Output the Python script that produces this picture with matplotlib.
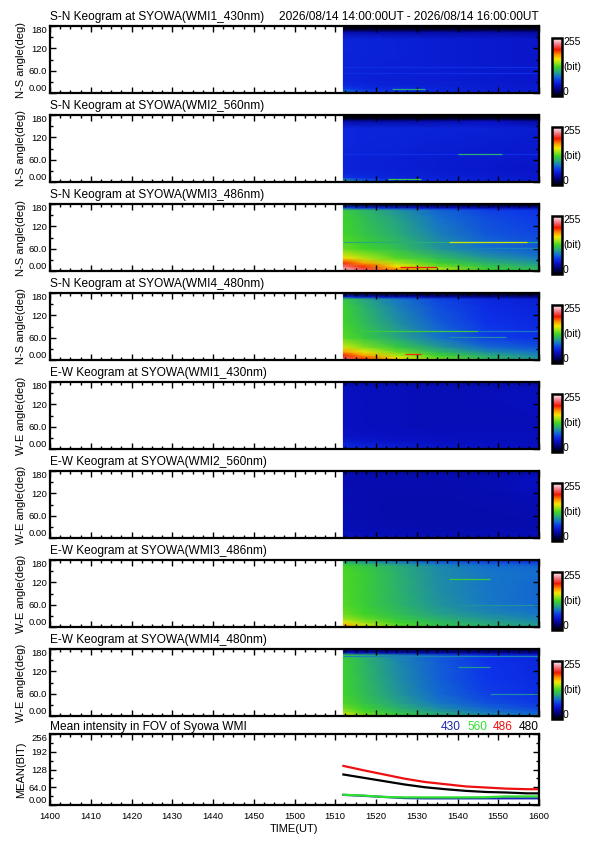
import numpy as np
import matplotlib
matplotlib.use('Agg')
import matplotlib.pyplot as plt
from matplotlib.colors import LinearSegmentedColormap
from matplotlib.ticker import MultipleLocator, FixedLocator

plt.rcParams['font.family'] = ['Liberation Sans', 'DejaVu Sans']

# ---------------- data ----------------
panel_titles = [
    "S-N Keogram at SYOWA(WMI1_430nm)", "S-N Keogram at SYOWA(WMI2_560nm)",
    "S-N Keogram at SYOWA(WMI3_486nm)", "S-N Keogram at SYOWA(WMI4_480nm)",
    "E-W Keogram at SYOWA(WMI1_430nm)", "E-W Keogram at SYOWA(WMI2_560nm)",
    "E-W Keogram at SYOWA(WMI3_486nm)", "E-W Keogram at SYOWA(WMI4_480nm)",
]
panel_ylabels = ["N-S angle(deg)"] * 4 + ["W-E angle(deg)"] * 4
time_range_text = "2026/08/14 14:00:00UT - 2026/08/14 16:00:00UT"

# keogram node grid (minutes after 14:00 UT, angle in deg)
key_times = [72, 77, 85, 95, 107, 120]
key_angles = [0, 5, 12, 22, 35, 60, 100, 145, 164, 170, 180]

# intensity (bit) at nodes; rows follow key_angles, columns follow key_times
sn_430 = [[62, 58, 55, 53, 52, 50],
          [85, 72, 66, 60, 56, 53],
          [68, 62, 60, 57, 54, 52],
          [60, 58, 56, 55, 53, 51],
          [58, 56, 55, 54, 52, 50],
          [58, 56, 55, 54, 52, 50],
          [58, 57, 56, 54, 52, 50],
          [58, 57, 56, 54, 52, 50],
          [40, 40, 38, 38, 38, 36],
          [12, 12, 12, 12, 12, 12],
          [0, 0, 0, 0, 0, 0]]
sn_560 = [[75, 62, 56, 54, 52, 50],
          [100, 78, 64, 58, 55, 52],
          [66, 62, 58, 56, 54, 51],
          [60, 58, 56, 54, 52, 50],
          [58, 56, 55, 53, 51, 49],
          [58, 56, 55, 53, 52, 50],
          [60, 58, 57, 55, 53, 52],
          [60, 58, 58, 57, 56, 53],
          [38, 38, 38, 40, 46, 36],
          [8, 8, 8, 8, 10, 8],
          [0, 0, 0, 0, 0, 0]]
sn_486 = [[245, 225, 190, 155, 128, 116],
          [240, 220, 185, 152, 126, 115],
          [225, 200, 165, 138, 120, 108],
          [200, 178, 148, 126, 110, 100],
          [165, 150, 132, 116, 100, 90],
          [135, 128, 117, 100, 86, 78],
          [128, 120, 108, 92, 78, 72],
          [126, 116, 103, 86, 74, 68],
          [122, 112, 98, 82, 70, 65],
          [70, 62, 55, 48, 42, 40],
          [0, 0, 0, 0, 0, 0]]
sn_480 = [[225, 200, 165, 138, 115, 100],
          [222, 196, 162, 135, 113, 98],
          [205, 180, 150, 127, 108, 94],
          [180, 160, 136, 114, 96, 86],
          [155, 140, 122, 102, 84, 76],
          [132, 122, 106, 88, 70, 64],
          [127, 115, 98, 80, 66, 60],
          [125, 110, 92, 75, 62, 57],
          [120, 105, 88, 72, 60, 55],
          [60, 52, 45, 38, 32, 30],
          [0, 0, 0, 0, 0, 0]]
ew_430 = [[52, 50, 48, 46, 45, 45],
          [60, 57, 53, 49, 47, 46],
          [58, 55, 52, 48, 46, 45],
          [52, 50, 48, 46, 45, 44],
          [48, 47, 46, 45, 44, 44],
          [46, 45, 44, 43, 43, 43],
          [46, 45, 44, 43, 43, 44],
          [46, 45, 44, 43, 44, 45],
          [45, 44, 44, 43, 43, 44],
          [43, 42, 42, 42, 42, 42],
          [38, 38, 38, 38, 38, 38]]
ew_560 = [[44, 43, 43, 42, 42, 42],
          [46, 45, 44, 43, 42, 42],
          [45, 44, 43, 42, 42, 42],
          [43, 42, 42, 41, 41, 41],
          [42, 42, 41, 40, 40, 40],
          [42, 41, 40, 40, 40, 41],
          [42, 41, 40, 40, 41, 42],
          [42, 41, 41, 41, 42, 46],
          [42, 41, 41, 41, 42, 44],
          [40, 40, 40, 40, 40, 42],
          [38, 38, 38, 38, 38, 38]]
ew_486 = [[185, 158, 135, 120, 110, 102],
          [180, 155, 133, 119, 109, 101],
          [160, 145, 128, 115, 105, 98],
          [145, 135, 122, 110, 100, 93],
          [136, 128, 117, 104, 95, 88],
          [131, 124, 112, 99, 89, 83],
          [130, 124, 111, 97, 88, 83],
          [130, 124, 110, 96, 88, 85],
          [128, 120, 108, 95, 86, 82],
          [120, 112, 100, 88, 80, 75],
          [100, 90, 80, 70, 65, 60]]
ew_480 = [[160, 140, 124, 110, 96, 86],
          [155, 137, 122, 108, 94, 84],
          [145, 130, 116, 102, 88, 78],
          [136, 125, 110, 95, 82, 72],
          [130, 120, 105, 89, 76, 68],
          [127, 116, 100, 84, 70, 63],
          [126, 114, 97, 81, 67, 61],
          [125, 112, 95, 80, 66, 60],
          [122, 110, 92, 78, 64, 58],
          [50, 45, 40, 35, 32, 30],
          [15, 15, 15, 15, 15, 15]]
keograms = [sn_430, sn_560, sn_486, sn_480, ew_430, ew_560, ew_486, ew_480]

# thin arc streaks: (panel, angle, t_start, t_end, intensity)
streaks = [
    (0, 70, 72, 120, 64), (0, 54, 72, 120, 63), (0, 10, 84, 92, 105),
    (1, 74, 72, 120, 64), (1, 74, 100, 111, 108), (1, 9, 83, 91, 120),
    (2, 77, 72, 120, 108), (2, 77, 98, 117, 155), (2, 61, 100, 120, 92), (2, 12, 86, 95, 205),
    (3, 79, 74, 105, 122), (3, 79, 105, 120, 88), (3, 63, 98, 112, 96), (3, 16, 87, 91, 200),
    (6, 128, 98, 108, 122), (6, 58, 100, 120, 98),
    (7, 161, 72, 120, 92), (7, 132, 100, 108, 100), (7, 59, 108, 120, 96),
]

# mean intensity in FOV
mean_t = [72, 77, 82, 87, 92, 97, 102, 107, 112, 117, 120]
mean_430 = [36.5, 33, 29, 25, 24, 24, 24, 24, 24, 24, 24]
mean_560 = [37, 34, 29, 27.5, 27.5, 27.5, 27.5, 28, 31, 31, 31]
mean_486 = [141, 125, 110, 95, 83, 75, 67, 63, 59, 57, 57]
mean_480 = [110, 98, 86, 74, 64, 57, 51, 47, 45, 42, 42]
mean_labels = ["430", "560", "486", "480"]

x_ticks = list(range(0, 121, 10))
x_ticklabels = ["1400", "1410", "1420", "1430", "1440", "1450", "1500",
                "1510", "1520", "1530", "1540", "1550", "1600"]
ang_ticks = [0, 60, 120, 180]
ang_ticklabels = ["0.00", "60.0", "120", "180"]
mean_ticks = [0, 64, 128, 192, 256]
mean_ticklabels = ["0.00", "64.0", "128", "192", "256"]

# ---------------- style ----------------
cmap = LinearSegmentedColormap.from_list("idl", [
    (0.00, (0, 0, 0)),
    (0.08, (0, 0, 0.38)),
    (0.18, (0.03, 0.06, 0.76)),
    (0.26, (0.05, 0.20, 0.92)),
    (0.34, (0.08, 0.45, 0.80)),
    (0.42, (0.16, 0.67, 0.47)),
    (0.50, (0.24, 0.83, 0.16)),
    (0.58, (0.67, 0.90, 0.08)),
    (0.64, (0.98, 0.90, 0.0)),
    (0.72, (1.0, 0.55, 0.0)),
    (0.80, (0.94, 0.08, 0.0)),
    (0.90, (0.95, 0.50, 0.55)),
    (1.00, (1, 1, 1)),
])

W, H = 595, 842
fig = plt.figure(figsize=(W / 100, H / 100), dpi=100)


def rect(x0, y0, x1, y1):
    return [x0 / W, 1 - y1 / H, (x1 - x0) / W, (y1 - y0) / H]


def ftext(x, y, s, **kw):
    return fig.text(x / W, 1 - y / H, s, **kw)


AX_L, AX_R = 50, 539
TICK_FS = 6.8
TITLE_FS = 8.6
YLAB_X = -0.049


def style_axes(ax):
    for sp in ax.spines.values():
        sp.set_linewidth(1.6)
    ax.tick_params(which='both', direction='in', top=True, right=True, width=1.0,
                   labelsize=TICK_FS, pad=2)
    ax.tick_params(which='major', length=4)
    ax.tick_params(which='minor', length=2.5)
    ax.set_xlim(0, 120)
    ax.xaxis.set_major_locator(FixedLocator(x_ticks))
    ax.xaxis.set_minor_locator(MultipleLocator(2.5))


T, A = np.meshgrid(key_times, key_angles)
for i in range(8):
    top = 26 + 89 * i
    bot = top + 67
    ax = fig.add_axes(rect(AX_L, top, AX_R, bot))
    pcm = ax.pcolormesh(T, A, np.array(keograms[i], dtype=float), shading='gouraud',
                        cmap=cmap, vmin=0, vmax=255)
    for (p, ang, t0, t1, val) in streaks:
        if p == i:
            ax.plot([t0, t1], [ang, ang], color=cmap(val / 255), lw=0.9,
                    solid_capstyle='butt')
    style_axes(ax)
    ax.set_ylim(0, 180)
    ax.set_yticks(ang_ticks)
    ax.set_yticklabels(ang_ticklabels)
    ax.yaxis.set_minor_locator(FixedLocator([30, 90, 150]))
    ax.set_xticklabels([])
    yt = ax.yaxis.get_major_ticks()
    yt[0].label1.set_va('bottom')
    yt[-1].label1.set_va('top')
    ax.set_ylabel(panel_ylabels[i], fontsize=8, labelpad=1)
    ax.yaxis.set_label_coords(YLAB_X, 0.5)
    ftext(AX_L, top - 3, panel_titles[i], fontsize=TITLE_FS, ha='left', va='bottom')
    if i == 0:
        ftext(AX_R, top - 3, time_range_text, fontsize=TITLE_FS, ha='right', va='bottom')
    # colorbar
    ctop, cbot = top + 12, bot + 3
    cax = fig.add_axes(rect(552, ctop, 562, cbot))
    cb = fig.colorbar(pcm, cax=cax)
    cb.outline.set_linewidth(1.8)
    cax.set_yticks([])
    cax.tick_params(which='both', length=0)
    ftext(563, ctop - 1, "255", fontsize=7.5, ha='left', va='top')
    ftext(563, (ctop + cbot) / 2, "(bit)", fontsize=7.5, ha='left', va='center')
    ftext(563, cbot + 1, "0", fontsize=7.5, ha='left', va='bottom')

# mean intensity panel
mtop, mbot = 734, 805
leg_colors = ['#1a2ab0', '#30e030', '#ee1010', 'black']
ax = fig.add_axes(rect(AX_L, mtop, AX_R, mbot))
ax.plot(mean_t, mean_430, color=leg_colors[0], lw=1.6)
ax.plot(mean_t, mean_560, color=leg_colors[1], lw=1.6)
ax.plot(mean_t, mean_486, color=leg_colors[2], lw=1.6)
ax.plot(mean_t, mean_480, color=leg_colors[3], lw=1.6)
style_axes(ax)
ax.set_ylim(0, 256)
ax.set_yticks(mean_ticks)
ax.set_yticklabels(mean_ticklabels)
ax.yaxis.set_minor_locator(MultipleLocator(32))
ax.set_xticklabels(x_ticklabels)
ax.tick_params(axis='x', pad=5)
yt = ax.yaxis.get_major_ticks()
yt[0].label1.set_va('bottom')
yt[-1].label1.set_va('top')
ax.set_ylabel("MEAN(BIT)", fontsize=8, labelpad=1)
ax.yaxis.set_label_coords(YLAB_X, 0.5)
ax.set_xlabel("TIME(UT)", fontsize=8, labelpad=2)
ftext(AX_L, mtop - 1, "Mean intensity in FOV of Syowa WMI", fontsize=TITLE_FS,
      ha='left', va='bottom')
x = AX_R
for lab, col in reversed(list(zip(mean_labels, leg_colors))):
    ftext(x, mtop - 1, lab, fontsize=TITLE_FS, color=col, ha='right', va='bottom')
    x -= 26

fig.savefig("out.png", dpi=100)
